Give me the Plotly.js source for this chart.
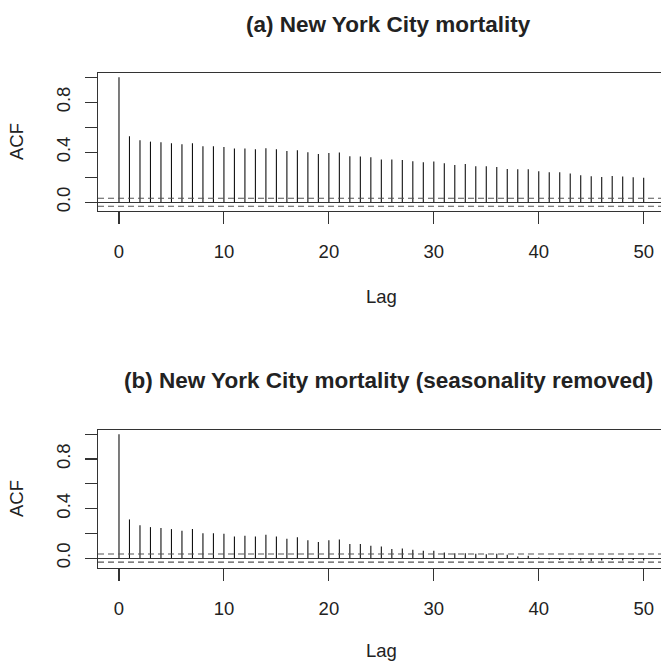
<!DOCTYPE html>
<html>
<head>
<meta charset="utf-8">
<script src="https://cdn.plot.ly/plotly-3.0.1.min.js"></script>
<style>html,body{margin:0;padding:0;background:#fff;overflow:hidden}</style>
</head>
<body>
<div id="chart" style="width:661px;height:664px"></div>
<script>
// ---- data ----
const lags = [0,1,2,3,4,5,6,7,8,9,10,11,12,13,14,15,16,17,18,19,20,21,22,23,24,25,26,27,28,29,30,31,32,33,34,35,36,37,38,39,40,41,42,43,44,45,46,47,48,49,50];
const acfRaw = [1.0,0.528,0.496,0.485,0.48,0.472,0.464,0.472,0.448,0.448,0.442,0.429,0.429,0.424,0.432,0.424,0.41,0.416,0.40,0.386,0.394,0.397,0.368,0.365,0.36,0.341,0.341,0.338,0.328,0.32,0.325,0.312,0.298,0.306,0.288,0.288,0.282,0.266,0.264,0.264,0.248,0.24,0.24,0.229,0.216,0.208,0.202,0.21,0.205,0.2,0.195];
const acfDeseason = [1.0,0.312,0.266,0.25,0.242,0.234,0.22,0.234,0.20,0.20,0.196,0.175,0.18,0.175,0.188,0.175,0.156,0.169,0.145,0.129,0.145,0.15,0.113,0.113,0.10,0.094,0.073,0.078,0.067,0.059,0.059,0.046,0.04,0.04,0.035,0.03,0.035,0.027,0.013,0.019,0.005,-0.01,-0.015,-0.01,-0.02,-0.025,-0.02,-0.015,-0.02,-0.015,-0.02];
const ciBound = 0.0325;
const xTicks = [0,10,20,30,40,50];
const yTicks = [0,0.2,0.4,0.6,0.8,1.0];
const yTickText = ['0.0','','0.4','','0.8',''];
const titleA = '(a) New York City mortality';
const titleB = '(b) New York City mortality (seasonality removed)';
const xLabel = 'Lag';
const yLabel = 'ACF';

// ---- helpers ----
const W = 661, H = 664;
const FONT = 'Liberation Sans, Arial, Helvetica, sans-serif';
const INK = '#222';
const FS = 18.5;
const px = v => v / W;
const py = v => 1 - v / H;

function stems(xs, vs, xa, ya) {
  const x = [], y = [];
  for (let i = 0; i < xs.length; i++) { x.push(xs[i], xs[i], null); y.push(0, vs[i], null); }
  return {type:'scatter', mode:'lines', x:x, y:y, xaxis:xa, yaxis:ya,
          line:{color:'#111', width:1.1}, hoverinfo:'skip', showlegend:false};
}

function xAxis(anchor) {
  return {domain:[px(98),1], range:[-2,51.65], anchor:anchor,
    tickmode:'array', tickvals:xTicks, ticks:'outside', ticklen:12, tickwidth:1.1, tickcolor:'#333',
    showline:true, mirror:true, linecolor:'#333', linewidth:1.3,
    showgrid:false, zeroline:false, ticklabelstandoff:11,
    tickfont:{family:FONT, size:FS, color:INK}};
}
function yAxis(anchor, top, bottom, lo) {
  return {domain:[py(bottom), py(top)], range:[lo,1.034], anchor:anchor,
    tickmode:'array', tickvals:yTicks, ticktext:yTickText, tickangle:-90,
    ticks:'outside', ticklen:12, tickwidth:1.1, tickcolor:'#333',
    showline:true, linecolor:'#333', linewidth:1.3,
    showgrid:false, zeroline:true, zerolinecolor:'#333', zerolinewidth:1.1,
    ticklabelstandoff:7,
    tickfont:{family:FONT, size:FS, color:INK}};
}
function ciLines(xr, yr) {
  return [ciBound, -ciBound].map(v => ({type:'line', xref:xr+' domain', yref:yr,
    x0:0, x1:1, y0:v, y1:v, line:{color:'#555', width:1.1, dash:'6px,4px'}}));
}
function ann(text, x, y, opts) {
  return Object.assign({text:text, x:px(x), y:py(y), xref:'paper', yref:'paper',
    showarrow:false, xanchor:'center', yanchor:'middle',
    font:{family:FONT, size:FS, color:INK}}, opts || {});
}

const data = [stems(lags, acfRaw, 'x', 'y'), stems(lags, acfDeseason, 'x2', 'y2')];

const TF = {family:FONT, size:22.5, color:INK};
const layout = {
  width:W, height:H, margin:{l:0,r:0,t:0,b:0},
  paper_bgcolor:'#fff', plot_bgcolor:'#fff', showlegend:false,
  xaxis: xAxis('y'),
  yaxis: yAxis('x', 73, 211, -0.07),
  xaxis2: xAxis('y2'),
  yaxis2: yAxis('x2', 430, 568, -0.08),
  shapes: ciLines('x','y').concat(ciLines('x2','y2')),
  annotations: [
    ann('<b>'+titleA+'</b>', 388, 24, {font:TF}),
    ann('<b>'+titleB+'</b>', 388, 380, {font:TF}),
    ann(xLabel, 381, 296),
    ann(xLabel, 381, 650),
    ann(yLabel, 16, 142, {textangle:-90}),
    ann(yLabel, 16, 499, {textangle:-90})
  ]
};

Plotly.newPlot('chart', data, layout, {staticPlot:true, displayModeBar:false});
</script>
</body>
</html>
